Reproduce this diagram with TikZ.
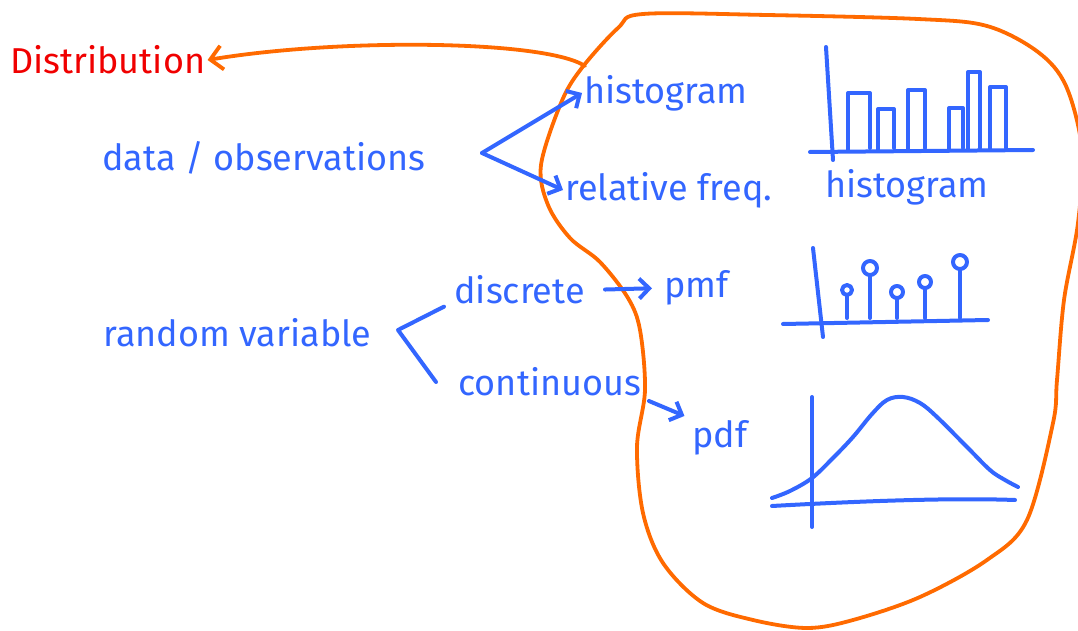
\documentclass[tikz,border=0pt]{standalone}
\usepackage{fontspec}
\setmainfont{Fira Sans}
\usetikzlibrary{arrows.meta}
\definecolor{inkblue}{HTML}{3366FF}
\definecolor{inkorange}{HTML}{FF6A00}
\definecolor{inkred}{HTML}{F00000}

\begin{document}
\begin{tikzpicture}[
  x=0.5pt, y=-0.5pt,
  every node/.style={font=\fontsize{18}{21}\selectfont, inner sep=1pt, anchor=west},
  word/.style={text=inkblue},
  ink/.style={draw=inkblue, line width=2pt, line cap=round, line join=round},
  arrow/.style={ink, -{Straight Barb[length=5pt, width=10pt, line width=2pt]}},
  boundary/.style={draw=inkorange, line width=1.9pt, line cap=round},
  outarrow/.style={boundary, -{Straight Barb[length=6pt, width=12pt, line width=1.9pt]}},
]
\useasboundingbox (0,0) rectangle (1078,631);

% Distribution boundary
\draw[boundary] plot[smooth cycle, tension=0.55] coordinates {
  (618,28) (643,14) (767,15) (918,19) (987,26) (1038,52) (1066,86)
  (1082,150) (1078,223) (1064,300) (1057,380) (1053,423) (1027,520)
  (987,560) (920,597) (853,620) (807,628) (753,620) (703,603)
  (663,563) (643,513) (637,447) (645,390) (640,330) (628,298)
  (600,262) (570,238) (548,205) (541,165) (561,103) (581,69)};
\coordinate (blobexit) at (585,66);

% Labels
\node[text=inkred] (dist) at (8,60) {Distribution};
\node[word] (data) at (100,158) {data / observations};
\node[word] (hist) at (582,93) {histogram};
\node[word] (relfreq) at (563,190) {relative freq.};
\node[word] (relhist) at (823,187) {histogram};
\node[word] (rv) at (101,333) {random variable};
\node[word] (disc) at (452,290) {discrete};
\node[word] (pmf) at (662,288) {pmf};
\node[word] (cont) at (456,382) {continuous};
\node[word] (pdf) at (690,438) {pdf};

% Arrows
\draw[outarrow] (blobexit) .. controls (545,40) and (340,38) .. (dist.east);
\coordinate (fork) at (482,153);
\draw[arrow] (fork) -- (hist.west);
\draw[arrow] (fork) -- (relfreq.west);
\coordinate (rvfork) at (398,330);
\draw[ink] ([xshift=-4pt]disc.south west) -- (rvfork) -- ([xshift=-10pt]cont.west);
\draw[arrow, shorten <=9pt, shorten >=5pt] (disc.east) -- (pmf.west);
\draw[arrow, shorten <=3pt, shorten >=3pt] (cont.south east) -- (pdf.north west);

% Histogram sketch
\draw[ink] (826,47) -- (833,160);
\draw[ink] (810,152) -- (1033,150);
\foreach \l/\r/\t in {848/870/93, 878/894/109, 908/925/90, 949/963/108, 968/980/72, 990/1006/87}
  \draw[ink] (\l,150) -- (\l,\t) -- (\r,\t) -- (\r,148);

% pmf sketch
\draw[ink] (813,248) -- (823,337);
\draw[ink] (783,324) -- (988,320);
\foreach \x/\t/\s in {847/290/5, 870/268/7, 897/292/6, 925/282/6, 960/262/7}{
  \draw[ink] (\x,318) -- (\x,\t+\s);
  \draw[ink] (\x,\t) circle (\s);
}

% pdf sketch
\draw[ink] (812,397) -- (812,527);
\draw[ink] (772,506) .. controls (880,500) and (960,498) .. (1015,500);
\draw[ink] plot[smooth, tension=0.6] coordinates {
  (772,498) (790,491) (812,478) (833,458) (853,437) (872,414) (887,400)
  (903,397) (920,403) (937,417) (967,447) (990,470) (1005,480) (1018,487)};

\end{tikzpicture}
\end{document}
